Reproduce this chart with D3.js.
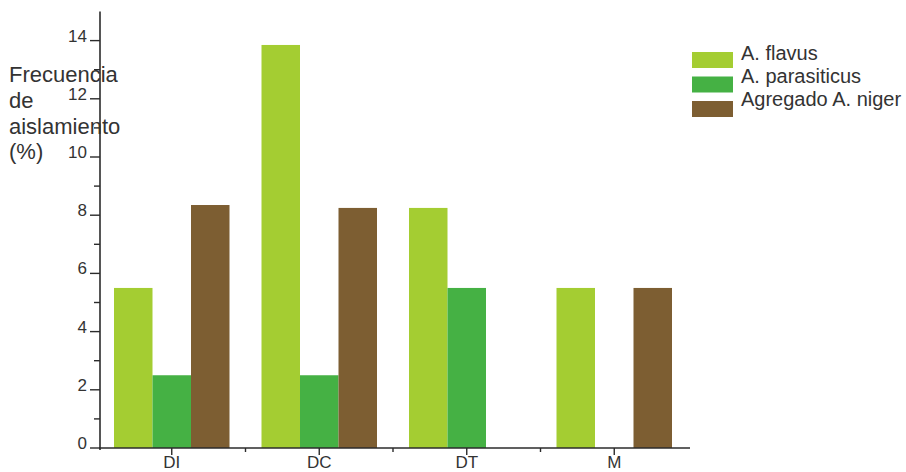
<!DOCTYPE html>
<html>
<head>
<meta charset="utf-8">
<script src="https://cdn.jsdelivr.net/npm/d3@7"></script>
<style>
  html, body { margin: 0; padding: 0; background: #fff; }
  svg { display: block; font-family: "Liberation Sans", Arial, sans-serif; }
</style>
</head>
<body>
<svg id="chart" width="906" height="472"></svg>
<script>
const categories = ["DI", "DC", "DT", "M"];
const seriesNames = ["A. flavus", "A. parasiticus", "Agregado A. niger"];
const flavus = [5.5, 13.85, 8.25, 5.5];
const parasiticus = [2.5, 2.5, 5.5, 0];
const niger = [8.35, 8.25, 0, 5.5];
const colors = ["#a4cd32", "#45b144", "#7d5e32"];
const yTicksMajor = [0, 2, 4, 6, 8, 10, 12, 14];
const yTicksMinor = [1, 3, 5, 7, 9, 11, 13];
const yLabelLines = ["Frecuencia", "de", "aislamiento", "(%)"];

const seriesValues = [flavus, parasiticus, niger];
const svg = d3.select("#chart");
const ink = "#2b2b2b";

const x = d3.scaleBand().domain(categories).range([98, 688]).paddingInner(0).paddingOuter(0);
const xSub = d3.scaleBand().domain(seriesNames).range([16, x.bandwidth() - 16]);
const y = d3.scaleLinear().domain([0, 15]).range([448, 11.5]);

// bars
categories.forEach((c, ci) => {
  seriesNames.forEach((s, si) => {
    const v = seriesValues[si][ci];
    if (v <= 0) return;
    svg.append("rect")
      .attr("x", x(c) + xSub(s))
      .attr("y", y(v))
      .attr("width", xSub.bandwidth())
      .attr("height", y(0) - y(v))
      .attr("fill", colors[si]);
  });
});

// y axis
const yAxis = svg.append("g");
yAxis.append("line").attr("x1", 100).attr("x2", 100).attr("y1", y(15)).attr("y2", y(0) + 2)
  .attr("stroke", ink).attr("stroke-width", 1.6);
yTicksMajor.forEach(t => {
  yAxis.append("line").attr("x1", 90).attr("x2", 100).attr("y1", y(t)).attr("y2", y(t))
    .attr("stroke", ink).attr("stroke-width", 1.4);
  yAxis.append("text").attr("x", 87).attr("y", y(t) + 1)
    .attr("text-anchor", "end").attr("font-size", 17).attr("fill", "#333").text(t);
});
yTicksMinor.forEach(t => {
  yAxis.append("line").attr("x1", 94).attr("x2", 100).attr("y1", y(t)).attr("y2", y(t))
    .attr("stroke", ink).attr("stroke-width", 1.4);
});

// x axis
const xAxis = svg.append("g");
xAxis.append("line").attr("x1", 99).attr("x2", 690).attr("y1", y(0)).attr("y2", y(0))
  .attr("stroke", ink).attr("stroke-width", 1.6);
categories.forEach(c => {
  const cx = x(c) + x.bandwidth() / 2;
  xAxis.append("line").attr("x1", cx).attr("x2", cx).attr("y1", y(0)).attr("y2", y(0) + 7)
    .attr("stroke", ink).attr("stroke-width", 1.4);
  xAxis.append("text").attr("x", cx).attr("y", 468)
    .attr("text-anchor", "middle").attr("font-size", 17).attr("fill", "#333").text(c);
});
categories.slice(1).forEach(c => {
  const bx = x(c);
  xAxis.append("line").attr("x1", bx).attr("x2", bx).attr("y1", y(0)).attr("y2", y(0) + 4)
    .attr("stroke", ink).attr("stroke-width", 1.4);
});

// y label
yLabelLines.forEach((l, i) => {
  svg.append("text").attr("x", 9).attr("y", 82 + i * 25.8)
    .attr("font-size", 22).attr("fill", "#333").text(l);
});

// legend
seriesNames.forEach((s, i) => {
  svg.append("rect").attr("x", 692).attr("y", 52 + i * 24.5)
    .attr("width", 41).attr("height", 16).attr("fill", colors[i]);
  svg.append("text").attr("x", 741).attr("y", 60 + i * 22.8)
    .attr("font-size", 20).attr("fill", "#333").text(s);
});
</script>
</body>
</html>
